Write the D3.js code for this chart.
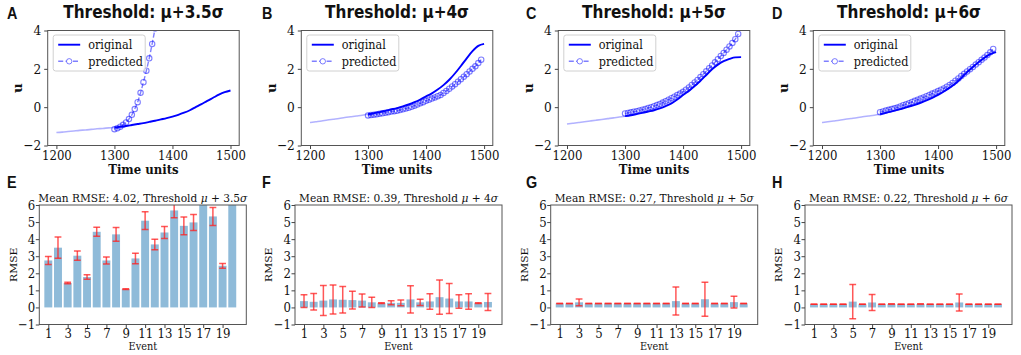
<!DOCTYPE html>
<html>
<head>
<meta charset="utf-8">
<script src="https://cdn.jsdelivr.net/npm/d3@7"></script>
<style>
body { margin: 0; background: #fff; }
.tick line { stroke: #444; }
.serif { font-family: "DejaVu Serif", serif; fill: #111; }
.sansb { font-family: "DejaVu Sans", sans-serif; font-weight: bold; fill: #111; }
.letter { font-family: "Liberation Sans", Arial, sans-serif; font-weight: bold; fill: #111; }
</style>
</head>
<body>
<div id="chart"></div>
<script>
var width = 1021;
var height = 355;
var SX = 0.9; // the reference figure is a bit squeezed horizontally

// ---- top row: time series ----
var TIME_ORIG = [1200, 1210, 1220, 1230, 1240, 1250, 1260, 1270, 1280, 1290, 1300,
    1310, 1320, 1330, 1340, 1350, 1360, 1370, 1380, 1390, 1400,
    1410, 1420, 1430, 1440, 1450, 1460, 1470, 1480, 1490, 1500];
var TIME_PRED = [1300, 1305, 1310, 1315, 1320, 1325, 1330, 1335, 1340, 1345,
    1350, 1355, 1360, 1365, 1370, 1375, 1380, 1385, 1390, 1395,
    1400, 1405, 1410, 1415, 1420, 1425, 1430, 1435, 1440, 1445,
    1450, 1455, 1460, 1465, 1470, 1475, 1480, 1485, 1490, 1495];

var ORIG_A = [-1.32, -1.30, -1.27, -1.24, -1.21, -1.19, -1.16, -1.13, -1.11, -1.08, -1.06,
    -1.02, -0.98, -0.93, -0.88, -0.83, -0.77, -0.71, -0.64, -0.57, -0.49,
    -0.40, -0.29, -0.16, 0.00, 0.16, 0.33, 0.49, 0.65, 0.78, 0.87];
var ORIG_B = [-0.80, -0.76, -0.72, -0.67, -0.63, -0.59, -0.54, -0.50, -0.46, -0.42, -0.37,
    -0.32, -0.26, -0.19, -0.12, -0.05, 0.04, 0.14, 0.26, 0.40, 0.56,
    0.72, 0.92, 1.15, 1.43, 1.77, 2.15, 2.55, 2.92, 3.20, 3.30];
var ORIG_C = [-0.88, -0.84, -0.80, -0.76, -0.72, -0.68, -0.64, -0.60, -0.56, -0.51, -0.47,
    -0.42, -0.36, -0.30, -0.23, -0.16, -0.06, 0.06, 0.20, 0.40, 0.63,
    0.85, 1.10, 1.38, 1.68, 1.98, 2.22, 2.40, 2.52, 2.60, 2.61];
var ORIG_D = [-0.80, -0.76, -0.72, -0.68, -0.63, -0.59, -0.55, -0.50, -0.46, -0.42, -0.37,
    -0.30, -0.22, -0.14, -0.06, 0.03, 0.12, 0.23, 0.35, 0.49, 0.64,
    0.82, 1.02, 1.24, 1.52, 1.83, 2.10, 2.35, 2.58, 2.77, 2.87];

var PRED_A = [-1.15, -1.10, -1.02, -0.92, -0.80, -0.62, -0.40, -0.10, 0.26, 0.75,
    1.30, 1.90, 2.55, 3.30, 4.10, 5.00];
var PRED_B = [-0.43, -0.41, -0.39, -0.37, -0.34, -0.32, -0.29, -0.26, -0.23, -0.21,
    -0.19, -0.15, -0.11, -0.07, -0.03, 0.02, 0.08, 0.14, 0.20, 0.26,
    0.33, 0.39, 0.45, 0.51, 0.57, 0.64, 0.74, 0.85, 0.96, 1.08,
    1.20, 1.33, 1.46, 1.59, 1.72, 1.86, 2.00, 2.13, 2.30, 2.48];
var PRED_C = [-0.33, -0.30, -0.27, -0.24, -0.21, -0.17, -0.13, -0.09, -0.04, 0.00,
    0.05, 0.11, 0.17, 0.24, 0.31, 0.39, 0.47, 0.55, 0.63, 0.71,
    0.80, 0.91, 1.03, 1.16, 1.29, 1.42, 1.57, 1.72, 1.87, 2.03,
    2.18, 2.34, 2.50, 2.67, 2.83, 3.00, 3.17, 3.35, 3.55, 3.82];
var PRED_D = [-0.26, -0.22, -0.18, -0.14, -0.10, -0.06, -0.02, 0.04, 0.10, 0.15,
    0.21, 0.27, 0.33, 0.39, 0.45, 0.51, 0.57, 0.64, 0.71, 0.77,
    0.84, 0.91, 0.98, 1.07, 1.16, 1.26, 1.38, 1.50, 1.62, 1.74,
    1.86, 1.98, 2.10, 2.22, 2.35, 2.47, 2.59, 2.72, 2.86, 3.04];

var THRESHOLDS = ['3.5', '4', '5', '6'];
var MEAN_RMSE = ['4.02', '0.39', '0.27', '0.22'];
var LETTERS_TOP = ['A', 'B', 'C', 'D'];
var LETTERS_BOT = ['E', 'F', 'G', 'H'];

var X_TICKS_TOP = [1200, 1300, 1400, 1500];
var Y_TICKS_TOP = [-2, 0, 2, 4];

// ---- bottom row: RMSE per event ----
var EVENTS = [1, 2, 3, 4, 5, 6, 7, 8, 9, 10, 11, 12, 13, 14, 15, 16, 17, 18, 19, 20];
var RMSE_E = [2.75, 3.50, 1.43, 3.03, 1.78, 4.43, 2.75, 4.28, 1.07, 2.87,
    5.08, 3.69, 4.39, 5.68, 4.78, 4.98, 7.30, 5.33, 2.44, 8.80];
var ERR_E = [0.23, 0.62, 0.05, 0.27, 0.13, 0.26, 0.20, 0.40, 0.02, 0.31,
    0.52, 0.31, 0.35, 0.43, 0.52, 0.47, 0.40, 0.53, 0.14, 0.50];
var RMSE_F = [0.37, 0.33, 0.40, 0.47, 0.45, 0.43, 0.40, 0.30, 0.25, 0.27,
    0.27, 0.47, 0.30, 0.35, 0.60, 0.52, 0.35, 0.35, 0.25, 0.32];
var ERR_F = [0.37, 0.48, 0.88, 0.85, 0.77, 0.52, 0.38, 0.30, 0.02, 0.12,
    0.17, 0.80, 0.18, 0.45, 1.00, 0.88, 0.40, 0.45, 0.02, 0.50];
var RMSE_G = [0.23, 0.23, 0.30, 0.23, 0.23, 0.23, 0.23, 0.23, 0.23, 0.23,
    0.23, 0.23, 0.37, 0.23, 0.23, 0.48, 0.23, 0.23, 0.31, 0.23];
var ERR_G = [0, 0, 0.20, 0, 0, 0, 0, 0, 0, 0,
    0, 0, 0.82, 0, 0, 1.00, 0, 0, 0.35, 0];
var RMSE_H = [0.19, 0.19, 0.19, 0.19, 0.34, 0.19, 0.29, 0.19, 0.20, 0.19,
    0.19, 0.20, 0.19, 0.19, 0.19, 0.29, 0.19, 0.19, 0.19, 0.19];
var ERR_H = [0, 0, 0, 0, 1.00, 0, 0.47, 0, 0, 0,
    0, 0, 0, 0, 0, 0.50, 0, 0, 0, 0];

var X_TICKS_BOT = [1, 3, 5, 7, 9, 11, 13, 15, 17, 19];
var Y_TICKS_BOT = [-1, 0, 1, 2, 3, 4, 5, 6];

// layout
var TOP_LEFT = [47.7, 301.3, 558.3, 813.3];
var TOP_Y = 30.5, TOP_W = 191.5, TOP_H = 115;
var BOT_LEFT = [39.3, 295, 550.7, 805];
var BOT_Y = 205, BOT_W = 207, BOT_H = 119.5;
var LETTER_X = [7, 262, 526, 772];

var COLOR_LINE = '#0000ff';
var COLOR_BAR = '#8fbbd9';
var COLOR_ERR = '#ff2020';

var svg = d3.select('#chart').append('svg')
    .attr('width', width)
    .attr('height', height);

// squeezed text helper
var txt = function (g, x, y, s, cls, size, anchor, rot) {
    return g.append('text')
        .attr('transform', 'translate(' + x + ',' + y + ') scale(' + SX + ',1)' + (rot ? ' rotate(-90)' : ''))
        .attr('class', cls)
        .style('font-size', size + 'px')
        .attr('text-anchor', anchor || 'start')
        .text(s);
}

var styleAxis = function (ax, size) {
    ax.select('.domain').remove();
    ax.selectAll('.tick text')
        .attr('class', 'serif')
        .style('font-size', size + 'px')
        .attr('font-family', null);
}

var drawFrame = function (g, w, h) {
    g.append('rect')
        .attr('width', w).attr('height', h)
        .attr('fill', 'none')
        .attr('stroke', '#555')
        .attr('stroke-width', 1);
}

var drawTop = function (i, orig, pred) {
    var g = svg.append('g')
        .attr('transform', 'translate(' + TOP_LEFT[i] + ',' + TOP_Y + ')');
    var x = d3.scaleLinear().domain([1185, 1515]).range([0, TOP_W]);
    var y = d3.scaleLinear().domain([-2, 4]).range([TOP_H, 0]);

    var clipId = 'clip-top-' + i;
    g.append('clipPath').attr('id', clipId)
        .append('rect').attr('width', TOP_W).attr('height', TOP_H);
    var plot = g.append('g').attr('clip-path', 'url(#' + clipId + ')');

    var pts = TIME_ORIG.map(function (t, k) { return [t, orig[k]]; });
    var hist = pts.filter(function (d) { return d[0] <= 1300; });
    var fut = pts.filter(function (d) { return d[0] >= 1300; });
    var predPts = pred.map(function (v, k) { return [TIME_PRED[k], v]; });

    var line = d3.line()
        .x(function (d) { return x(d[0]); })
        .y(function (d) { return y(d[1]); })
        .curve(d3.curveMonotoneX);

    plot.append('path').datum(hist)
        .attr('d', line).attr('fill', 'none')
        .attr('stroke', COLOR_LINE).attr('stroke-opacity', 0.3).attr('stroke-width', 1.6);
    plot.append('path').datum(fut)
        .attr('d', line).attr('fill', 'none')
        .attr('stroke', COLOR_LINE).attr('stroke-width', 1.9);

    plot.append('path').datum(predPts)
        .attr('d', d3.line().x(function (d) { return x(d[0]); }).y(function (d) { return y(d[1]); }))
        .attr('fill', 'none')
        .attr('stroke', COLOR_LINE).attr('stroke-opacity', 0.5)
        .attr('stroke-width', 1.4).attr('stroke-dasharray', '5,2.4');
    plot.selectAll('circle.pred').data(predPts).enter()
        .append('circle').attr('class', 'pred')
        .attr('cx', function (d) { return x(d[0]); })
        .attr('cy', function (d) { return y(d[1]); })
        .attr('r', 2.7)
        .attr('fill', 'none')
        .attr('stroke', COLOR_LINE).attr('stroke-opacity', 0.5).attr('stroke-width', 1.1);

    drawFrame(g, TOP_W, TOP_H);

    var ax = g.append('g').attr('transform', 'translate(0,' + TOP_H + ')')
        .call(d3.axisBottom(x).tickValues(X_TICKS_TOP).tickSize(3.5).tickPadding(2).tickFormat(d3.format('d')));
    styleAxis(ax, 13);
    ax.selectAll('.tick text').attr('transform', 'scale(' + SX + ',1)');
    var ay = g.append('g')
        .call(d3.axisLeft(y).tickValues(Y_TICKS_TOP).tickSize(3.5).tickPadding(3).tickFormat(d3.format('d')));
    styleAxis(ay, 13.5);
    ay.selectAll('.tick text').attr('x', -6.5 / SX).attr('transform', 'scale(' + SX + ',1)');

    // legend
    var lg = g.append('g').attr('transform', 'translate(5.5,4.5)');
    lg.append('rect').attr('width', 92).attr('height', 36).attr('rx', 2.5)
        .attr('fill', '#fff').attr('fill-opacity', 0.8)
        .attr('stroke', '#d0d0d0').attr('stroke-width', 1);
    lg.append('line').attr('x1', 5).attr('x2', 27).attr('y1', 9.7).attr('y2', 9.7)
        .attr('stroke', COLOR_LINE).attr('stroke-width', 1.9);
    lg.append('line').attr('x1', 5).attr('x2', 27).attr('y1', 26.3).attr('y2', 26.3)
        .attr('stroke', COLOR_LINE).attr('stroke-opacity', 0.5)
        .attr('stroke-width', 1.4).attr('stroke-dasharray', '5,2.4');
    lg.append('circle').attr('cx', 16).attr('cy', 26.3).attr('r', 2.7)
        .attr('fill', '#fff').attr('stroke', COLOR_LINE).attr('stroke-opacity', 0.5);
    txt(lg, 35, 14, 'original', 'serif', 12.5);
    txt(lg, 35, 30.5, 'predicted', 'serif', 12.5);

    // labels
    txt(g, TOP_W / 2, 143.5, 'Time units', 'serif', 13, 'middle').style('font-weight', 'bold');
    txt(g, -30, TOP_H / 2, 'u', 'serif', 13.5, 'middle', true)
        .style('font-weight', 'bold').attr('dy', '0.35em');
    txt(g, TOP_W / 2, -12.2, 'Threshold: \u03bc+' + THRESHOLDS[i] + '\u03c3', 'sansb', 17, 'middle');
    txt(svg, LETTER_X[i], 19, LETTERS_TOP[i], 'letter', 16);
}

var drawBottom = function (i, vals, errs) {
    var g = svg.append('g')
        .attr('transform', 'translate(' + BOT_LEFT[i] + ',' + BOT_Y + ')');
    var x = d3.scaleLinear().domain([0.07, 21.45]).range([0, BOT_W]);
    var y = d3.scaleLinear().domain([-1, 6]).range([BOT_H, 0]);

    var clipId = 'clip-bot-' + i;
    g.append('clipPath').attr('id', clipId)
        .append('rect').attr('width', BOT_W).attr('height', BOT_H);
    var plot = g.append('g').attr('clip-path', 'url(#' + clipId + ')');

    plot.selectAll('rect.bar').data(EVENTS).enter()
        .append('rect').attr('class', 'bar')
        .attr('x', function (e) { return x(e - 0.41); })
        .attr('width', x(0.89) - x(0.07))
        .attr('y', function (e, k) { return y(vals[k]); })
        .attr('height', function (e, k) { return y(0) - y(vals[k]); })
        .attr('fill', COLOR_BAR);

    var eb = plot.selectAll('g.err').data(EVENTS).enter()
        .append('g').attr('class', 'err')
        .attr('stroke', COLOR_ERR).attr('stroke-opacity', 0.75).attr('stroke-width', 1.5);
    eb.append('line')
        .attr('x1', function (e) { return x(e); }).attr('x2', function (e) { return x(e); })
        .attr('y1', function (e, k) { return y(vals[k] - errs[k]); })
        .attr('y2', function (e, k) { return y(vals[k] + errs[k]); });
    eb.append('line')
        .attr('x1', function (e) { return x(e) - 3.4; }).attr('x2', function (e) { return x(e) + 3.4; })
        .attr('y1', function (e, k) { return y(vals[k] - errs[k]); })
        .attr('y2', function (e, k) { return y(vals[k] - errs[k]); });
    eb.append('line')
        .attr('x1', function (e) { return x(e) - 3.4; }).attr('x2', function (e) { return x(e) + 3.4; })
        .attr('y1', function (e, k) { return y(vals[k] + errs[k]); })
        .attr('y2', function (e, k) { return y(vals[k] + errs[k]); });

    drawFrame(g, BOT_W, BOT_H);

    var ax = g.append('g').attr('transform', 'translate(0,' + BOT_H + ')')
        .call(d3.axisBottom(x).tickValues(X_TICKS_BOT).tickSize(3.5).tickPadding(1).tickFormat(d3.format('d')));
    styleAxis(ax, 13);
    ax.selectAll('.tick text').attr('transform', 'scale(' + SX + ',1)');
    var ay = g.append('g')
        .call(d3.axisLeft(y).tickValues(Y_TICKS_BOT).tickSize(3.5).tickPadding(2).tickFormat(d3.format('d')));
    styleAxis(ay, 13);
    ay.selectAll('.tick text').attr('x', -4 / SX).attr('transform', 'scale(' + SX + ',1)');

    txt(g, BOT_W / 2, 145, 'Event', 'serif', 10.8, 'middle');
    txt(g, -26, BOT_H / 2, 'RMSE', 'serif', 10.8, 'middle', true).attr('dy', '0.35em');

    var t = txt(g, BOT_W / 2, -3.3, '', 'serif', 11.8, 'middle');
    t.append('tspan').text('Mean RMSE: ' + MEAN_RMSE[i] + ', Threshold ');
    t.append('tspan').text('\u03bc').style('font-style', 'italic');
    t.append('tspan').text(' + ' + THRESHOLDS[i]);
    t.append('tspan').text('\u03c3').style('font-style', 'italic');

    txt(svg, LETTER_X[i], 188, LETTERS_BOT[i], 'letter', 16);
}

drawTop(0, ORIG_A, PRED_A);
drawTop(1, ORIG_B, PRED_B);
drawTop(2, ORIG_C, PRED_C);
drawTop(3, ORIG_D, PRED_D);

drawBottom(0, RMSE_E, ERR_E);
drawBottom(1, RMSE_F, ERR_F);
drawBottom(2, RMSE_G, ERR_G);
drawBottom(3, RMSE_H, ERR_H);
</script>
</body>
</html>
